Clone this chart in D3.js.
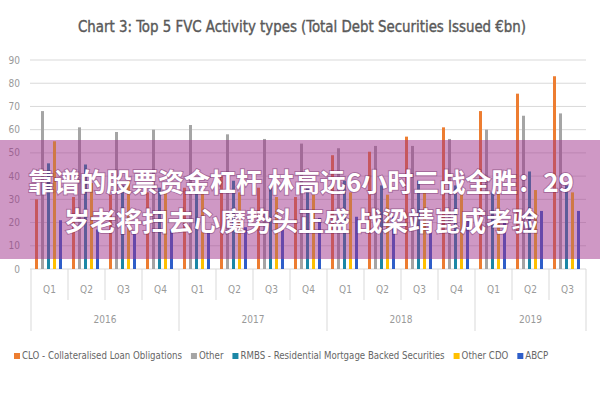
<!DOCTYPE html>
<html>
<head>
<meta charset="utf-8">
<script src="https://cdn.jsdelivr.net/npm/d3@7"></script>
<style>
  body { margin: 0; background: #fff; }
  svg { display: block; font-family: "Liberation Sans Narrow", "DejaVu Sans Condensed", "Open Sans", sans-serif; }
</style>
</head>
<body>
<div class="canvas"></div>
<script>
// data
const years = ["2016", "2017", "2018", "2019"];
const periods = ["2016 Q1", "2016 Q2", "2016 Q3", "2016 Q4", "2017 Q1", "2017 Q2", "2017 Q3", "2017 Q4",
  "2018 Q1", "2018 Q2", "2018 Q3", "2018 Q4", "2019 Q1", "2019 Q2", "2019 Q3"];
const seriesNames = ["CLO - Collateralised Loan Obligations", "Other",
  "RMBS - Residential Mortgage Backed Securities", "Other CDO", "ABCP"];
const clo = [30, 31, 32, 33, 35, 40, 35, 31, 49, 50.5, 57, 61, 68, 75.5, 83];
const other = [68, 61, 59, 60, 62, 58, 56, 54, 52, 53, 53, 56, 60, 66, 67];
const rmbs = [45.5, 45, 36, 35, 33, 38, 36, 35, 38, 36, 38, 36, 33, 42, 36];
const otherCdo = [55, 37, 38, 33, 33, 33, 31, 32, 33, 32, 33, 34, 34, 34, 33];
const abcp = [21, 17, 15.5, 17, 15.5, 18, 17, 22, 22.5, 22.5, 21, 22, 20, 25, 25];
const yTicks = [0, 10, 20, 30, 40, 50, 60, 70, 80, 90];
const colors = ["#ED7D31", "#A5A5A5", "#1B87A6", "#FFC000", "#2E5EC9"];
const overlayLines = ["靠谱的股票资金杠杆 林高远6小时三战全胜：29", "岁老将扫去心魔势头正盛 战梁靖崑成考验"];

const allSeries = [clo, other, rmbs, otherCdo, abcp];

const svg = d3.select(".canvas").append("svg").attr("width", 600).attr("height", 400);

// title
svg.append("text")
  .attr("x", 302).attr("y", 32)
  .attr("text-anchor", "middle")
  .attr("font-size", 16)
  .attr("fill", "#595959")
  .attr("stroke", "#595959")
  .attr("stroke-width", 0.4)
  .attr("textLength", 448)
  .attr("lengthAdjust", "spacingAndGlyphs")
  .text("Chart 3: Top 5 FVC Activity types (Total Debt Securities Issued €bn)");

// scales
const x = d3.scaleBand().domain(periods).range([31, 586]);
const inner = d3.scaleBand().domain(d3.range(5)).range([2.5, 32.5]).paddingInner(0.5).paddingOuter(0.25);
const y = d3.scaleLinear().domain([0, 90]).range([269, 60]);

// grid + y labels
const grid = svg.append("g");
grid.selectAll("line").data(yTicks).join("line")
  .attr("x1", 30).attr("x2", 586)
  .attr("y1", d => y(d)).attr("y2", d => y(d))
  .attr("stroke", "#d9d9d9").attr("stroke-width", 1);
grid.selectAll("text").data(yTicks).join("text")
  .attr("x", 20).attr("y", d => y(d) + 3.5)
  .attr("text-anchor", "end")
  .attr("font-size", 10)
  .attr("fill", "#999")
  .text(d => d);

// bars
const groups = svg.append("g").selectAll("g").data(allSeries).join("g")
  .attr("fill", (d, i) => colors[i]);
groups.each(function (vals, si) {
  d3.select(this).selectAll("rect").data(vals).join("rect")
    .attr("x", (d, i) => x(periods[i]) + inner(si))
    .attr("width", inner.bandwidth())
    .attr("y", d => y(d))
    .attr("height", d => y(0) - y(d));
});

// category axis: quarter ticks and labels
const axis = svg.append("g");
const bounds = d3.range(periods.length + 1);
const edge = i => i < periods.length ? x(periods[i]) : x(periods[i - 1]) + x.bandwidth();
axis.selectAll("line.q").data(bounds).join("line")
  .attr("class", "q")
  .attr("x1", edge)
  .attr("x2", edge)
  .attr("y1", 269)
  .attr("y2", i => {
    const yr = i < periods.length ? periods[i].slice(0, 4) : null;
    const prev = i > 0 ? periods[i - 1].slice(0, 4) : null;
    return yr !== prev ? 331 : 300;
  })
  .attr("stroke", "#d9d9d9");
axis.selectAll("text.q").data(periods).join("text")
  .attr("class", "q")
  .attr("x", d => x(d) + x.bandwidth() / 2)
  .attr("y", 293)
  .attr("text-anchor", "middle")
  .attr("font-size", 10)
  .attr("fill", "#999")
  .text(d => d.slice(5));
axis.selectAll("text.y").data(years).join("text")
  .attr("class", "y")
  .attr("x", yr => {
    const ps = periods.filter(p => p.startsWith(yr));
    return (x(ps[0]) + x(ps[ps.length - 1]) + x.bandwidth()) / 2;
  })
  .attr("y", 323)
  .attr("text-anchor", "middle")
  .attr("font-size", 10)
  .attr("fill", "#999")
  .text(d => d);

// legend
const legend = svg.append("g").attr("transform", "translate(14, 359)");
let lx = 0;
seriesNames.forEach((name, i) => {
  const item = legend.append("g").attr("transform", `translate(${lx},0)`);
  item.append("rect").attr("x", 0).attr("y", -6).attr("width", 6).attr("height", 6).attr("fill", colors[i]);
  const t = item.append("text").attr("x", 8).attr("y", 0)
    .attr("font-size", 9.6).attr("fill", "#666").text(name);
  lx += 8 + t.node().getComputedTextLength() + 9;
});

// overlay banner
svg.append("rect")
  .attr("x", 0).attr("y", 140).attr("width", 600).attr("height", 119)
  .attr("fill", "rgba(160, 50, 140, 0.5)");
svg.append("g").selectAll("text").data(overlayLines).join("text")
  .attr("x", 301)
  .attr("y", (d, i) => 192 + i * 39)
  .attr("text-anchor", "middle")
  .attr("font-family", "'Noto Sans CJK SC', sans-serif")
  .attr("font-weight", "bold")
  .attr("font-size", 26)
  .attr("fill", "#fff")
  .style("paint-order", "stroke")
  .attr("stroke", "rgba(90,20,80,0.35)")
  .attr("stroke-width", 2)
  .text(d => d);
</script>
</body>
</html>
